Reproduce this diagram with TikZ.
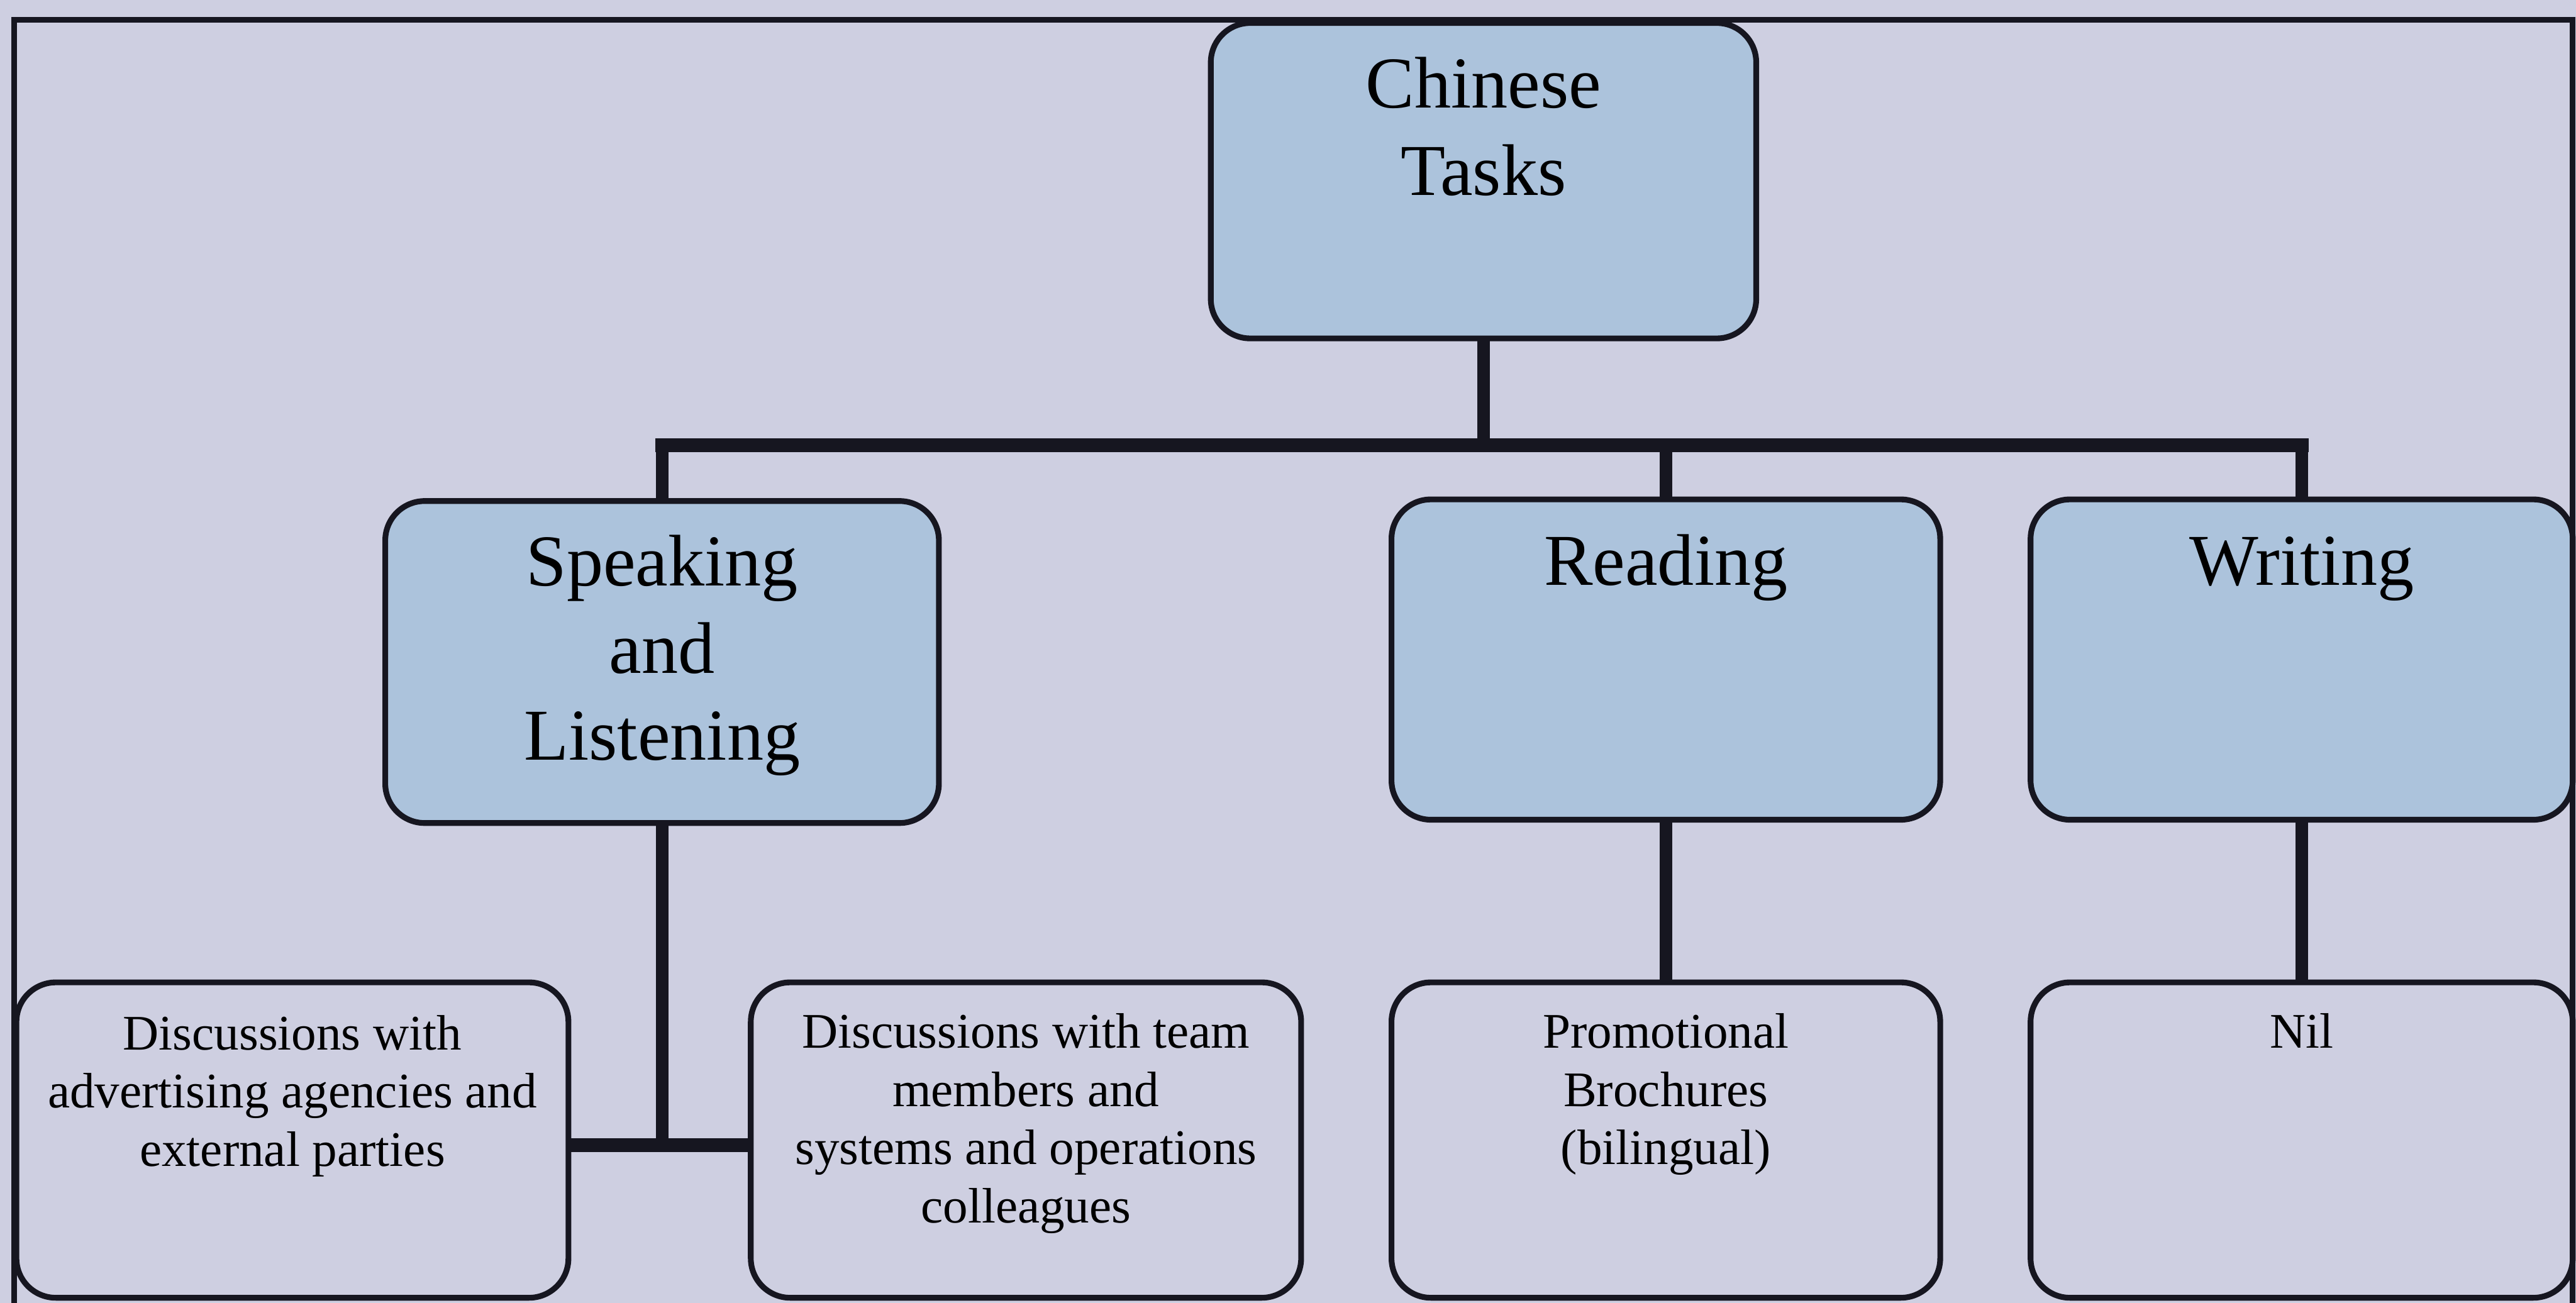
\documentclass[tikz,border=0pt]{standalone}
\usepackage{fontspec}
\setmainfont{Liberation Serif}
\usetikzlibrary{backgrounds}
\definecolor{paper}{RGB}{206,207,225}
\definecolor{boxblue}{RGB}{172,195,220}
\definecolor{ink}{RGB}{22,22,32}
% invisible rule fixing the height of the first line of a label
\newcommand\lnstrut{\rule{0pt}{0.8em}}
\tikzset{
  box/.style={draw=ink, line width=0.35mm, rounded corners=2.4mm,
    inner sep=0pt, outer sep=0pt},
  topbox/.style={box, fill=boxblue},
  leafbox/.style={box, fill=paper},
  bigtxt/.style={font=\fontsize{12.66pt}{15.08pt}\selectfont, align=center,
    inner sep=0pt, anchor=north, text=black},
  smalltxt/.style={font=\fontsize{8.62pt}{10.1pt}\selectfont, align=center,
    inner sep=0pt, anchor=north, text=black},
  conn/.style={draw=ink, line width=0.75mm},
  rail/.style={draw=ink, line width=0.85mm, line cap=rect},
  frame/.style={draw=ink, line width=0.34mm}
}
\begin{document}
\begin{tikzpicture}[x=0.1mm, y=-0.1mm]
\useasboundingbox (0,0) rectangle (1568,793);
\clip (0,0) rectangle (1568,793);

% task boxes
\node[topbox, minimum width=33.2mm, minimum height=19.2mm] (ct) at (903,110) {};
\node[topbox, minimum width=33.7mm, minimum height=19.6mm] (sl) at (403,403) {};
\node[topbox, minimum width=33.4mm, minimum height=19.5mm] (rd) at (1014,401.5) {};
\node[topbox, minimum width=33.0mm, minimum height=19.5mm] (wr) at (1401,401.5) {};

\node[leafbox, minimum width=33.6mm, minimum height=19.2mm] (d1) at (178,694) {};
\node[leafbox, minimum width=33.5mm, minimum height=19.2mm] (d2) at (624.5,694) {};
\node[leafbox, minimum width=33.4mm, minimum height=19.2mm] (pb) at (1014,694) {};
\node[leafbox, minimum width=33.0mm, minimum height=19.2mm] (nl) at (1401,694) {};

% labels, set from the top of each box
\node[bigtxt] (ctT) at ([yshift=-1.54mm]ct.north) {\lnstrut Chinese\\Tasks};
\node[bigtxt] (slT) at ([yshift=-1.54mm]sl.north) {\lnstrut Speaking\\and\\Listening};
\node[bigtxt] (rdT) at ([yshift=-1.6mm]rd.north) {\lnstrut Reading};
\node[bigtxt] (wrT) at ([yshift=-1.6mm]wr.north) {\lnstrut Writing};

\node[smalltxt] (d1T) at ([yshift=-1.6mm]d1.north) {\lnstrut Discussions with\\advertising agencies and\\external parties};
\node[smalltxt] (d2T) at ([yshift=-1.5mm]d2.north) {\lnstrut Discussions with team\\members and\\systems and operations\\colleagues};
\node[smalltxt] (pbT) at ([yshift=-1.5mm]pb.north) {\lnstrut Promotional\\Brochures\\(bilingual)};
\node[smalltxt] (nlT) at ([yshift=-1.5mm]nl.north) {\lnstrut Nil};

\coordinate (rail) at (903,271);
\coordinate (link) at (403,697);

\begin{pgfonlayer}{background}
  \fill[paper] (0,0) rectangle (1568,793);
  \draw[frame] (8.5,820) -- (8.5,12) -- (1566,12) -- (1566,820);
  % tree connectors
  \draw[conn] (ct.south) -- (ct.south |- rail);
  \draw[conn] (sl.north) -- (sl.north |- rail);
  \draw[conn] (rd.north) -- (rd.north |- rail);
  \draw[conn] (wr.north) -- (wr.north |- rail);
  \draw[rail] (sl.north |- rail) -- (wr.north |- rail);
  \draw[conn] (sl.south) -- (link);
  \draw[rail] (d1.east |- link) -- (d2.west |- link);
  \draw[conn] (rd.south) -- (pb.north);
  \draw[conn] (wr.south) -- (nl.north);
\end{pgfonlayer}
\end{tikzpicture}
\end{document}
